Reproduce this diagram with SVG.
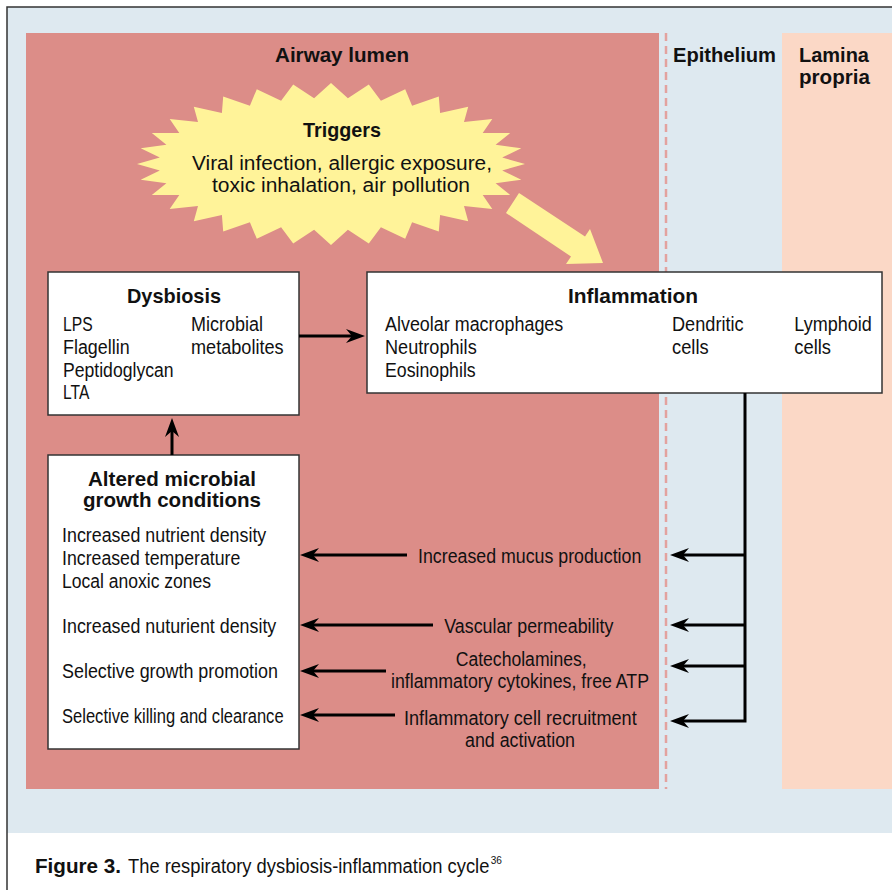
<svg xmlns="http://www.w3.org/2000/svg" width="892" height="890" viewBox="0 0 892 890">
<style>
text{font-family:"Liberation Sans",Arial,sans-serif;fill:#111}
.b{font-weight:bold;font-size:21px}
.r{font-size:20px}
.box{fill:#fff;stroke:#333;stroke-width:1.5}
.cn{fill:none;stroke:#000;stroke-width:3}
</style>
<defs>
<marker id="ah" viewBox="-20 -8 21 16" markerWidth="21" markerHeight="16" markerUnits="userSpaceOnUse" refX="-12" refY="0" orient="auto" overflow="visible">
<path d="M0,0 L-19,-7 L-13,0 L-19,7 Z" fill="#000"/>
</marker>
</defs>
<rect x="0" y="0" width="892" height="890" fill="#fff"/>
<rect x="7" y="7" width="885" height="826" fill="#dee9f0"/>
<path d="M7,890 V7 H892" fill="none" stroke="#333" stroke-width="1.5"/>
<rect x="26" y="33" width="633" height="756" fill="#dc8d88"/>
<rect x="782" y="33" width="110" height="756" fill="#fbd8c6"/>
<line x1="666" y1="33" x2="666" y2="789" stroke="#e3a29e" stroke-width="2.5" stroke-dasharray="8 5"/>
<g id="region-labels">
<text class="b" x="275" y="62" textLength="134" lengthAdjust="spacingAndGlyphs">Airway lumen</text>
<text class="b" x="673" y="62" textLength="103" lengthAdjust="spacingAndGlyphs">Epithelium</text>
<text class="b" x="799" y="62" textLength="70" lengthAdjust="spacingAndGlyphs">Lamina</text>
<text class="b" x="799" y="84" textLength="71" lengthAdjust="spacingAndGlyphs">propria</text>
</g>
<g id="triggers">
<polygon fill="#fff399" points="525,164 502.2,157.5 521.3,148.2 495.6,144.8 510.2,133 482.7,132.9 492.3,119 464,122.1 468.2,106.7 440.1,113 438.8,96.6 412.1,105.8 405.2,89.2 380.9,100.8 368.8,84.6 347.9,98.3 331,83 314.1,98.3 293.2,84.6 281.1,100.8 256.8,89.2 249.9,105.8 223.2,96.6 221.9,113 193.8,106.7 198,122.1 169.7,119 179.3,132.9 151.8,133 166.4,144.8 140.7,148.2 159.8,157.5 137,164 159.8,170.5 140.7,179.8 166.4,183.2 151.8,195 179.3,195.1 169.7,209 198,205.9 193.8,221.3 221.9,215 223.2,231.4 249.9,222.2 256.8,238.8 281.1,227.2 293.2,243.4 314.1,229.7 331,245 347.9,229.7 368.8,243.4 380.9,227.2 405.2,238.8 412.1,222.2 438.8,231.4 440.1,215 468.2,221.3 464,205.9 492.3,209 482.7,195.1 510.2,195 495.6,183.2 521.3,179.8 502.2,170.5"/>
<polygon fill="#fff399" points="519,193 585,236.5 590,229 603,263 566,264 571,256.5 506,213"/>
<text class="b" x="303" y="137" textLength="78" lengthAdjust="spacingAndGlyphs">Triggers</text>
<text class="r" x="192" y="170" textLength="300" lengthAdjust="spacingAndGlyphs">Viral infection, allergic exposure,</text>
<text class="r" x="212" y="192" textLength="258" lengthAdjust="spacingAndGlyphs">toxic inhalation, air pollution</text>
</g>
<g id="dysbiosis">
<rect class="box" x="48" y="272" width="251" height="143"/>
<text class="b" x="127" y="303" textLength="94" lengthAdjust="spacingAndGlyphs">Dysbiosis</text>
<text class="r" x="63" y="331" textLength="29.6" lengthAdjust="spacingAndGlyphs">LPS</text>
<text class="r" x="63" y="354" textLength="66.6" lengthAdjust="spacingAndGlyphs">Flagellin</text>
<text class="r" x="63" y="377" textLength="110.6" lengthAdjust="spacingAndGlyphs">Peptidoglycan</text>
<text class="r" x="63" y="398.5" textLength="26.3" lengthAdjust="spacingAndGlyphs">LTA</text>
<text class="r" x="191" y="331" textLength="72" lengthAdjust="spacingAndGlyphs">Microbial</text>
<text class="r" x="191" y="354" textLength="92.6" lengthAdjust="spacingAndGlyphs">metabolites</text>
</g>
<g id="inflammation">
<rect class="box" x="367" y="272" width="515" height="121"/>
<text class="b" x="568" y="303" textLength="130" lengthAdjust="spacingAndGlyphs">Inflammation</text>
<text class="r" x="385" y="331" textLength="178.3" lengthAdjust="spacingAndGlyphs">Alveolar macrophages</text>
<text class="r" x="385" y="354" textLength="91.7" lengthAdjust="spacingAndGlyphs">Neutrophils</text>
<text class="r" x="385" y="376.5" textLength="90.7" lengthAdjust="spacingAndGlyphs">Eosinophils</text>
<text class="r" x="672" y="331" textLength="71.6" lengthAdjust="spacingAndGlyphs">Dendritic</text>
<text class="r" x="672" y="354" textLength="36.6" lengthAdjust="spacingAndGlyphs">cells</text>
<text class="r" x="794.3" y="331" textLength="77.4" lengthAdjust="spacingAndGlyphs">Lymphoid</text>
<text class="r" x="794.3" y="354" textLength="36.7" lengthAdjust="spacingAndGlyphs">cells</text>
</g>
<g id="altered">
<rect class="box" x="48" y="455" width="251" height="294"/>
<text class="b" x="88" y="486" textLength="168" lengthAdjust="spacingAndGlyphs">Altered microbial</text>
<text class="b" x="83" y="507" textLength="178" lengthAdjust="spacingAndGlyphs">growth conditions</text>
<text class="r" x="62" y="542" textLength="204.3" lengthAdjust="spacingAndGlyphs">Increased nutrient density</text>
<text class="r" x="62" y="564.5" textLength="178.3" lengthAdjust="spacingAndGlyphs">Increased temperature</text>
<text class="r" x="62" y="587.5" textLength="149" lengthAdjust="spacingAndGlyphs">Local anoxic zones</text>
<text class="r" x="62" y="632.7" textLength="214.3" lengthAdjust="spacingAndGlyphs">Increased nuturient density</text>
<text class="r" x="62" y="677.7" textLength="216" lengthAdjust="spacingAndGlyphs">Selective growth promotion</text>
<text class="r" x="62" y="722.7" textLength="221.6" lengthAdjust="spacingAndGlyphs">Selective killing and clearance</text>
</g>
<g id="connectors">
<path class="cn" d="M299,336 H353" marker-end="url(#ah)"/>
<path class="cn" d="M172,455 V430" marker-end="url(#ah)"/>
<path class="cn" d="M407,555 H312" marker-end="url(#ah)"/>
<path class="cn" d="M433,625 H312" marker-end="url(#ah)"/>
<path class="cn" d="M386,671 H312" marker-end="url(#ah)"/>
<path class="cn" d="M395,715 H312" marker-end="url(#ah)"/>
<path class="cn" d="M745,393 V721 H682" marker-end="url(#ah)"/>
<path class="cn" d="M745,555 H682" marker-end="url(#ah)"/>
<path class="cn" d="M745,625 H682" marker-end="url(#ah)"/>
<path class="cn" d="M745,666 H682" marker-end="url(#ah)"/>
</g>
<g id="connector-labels">
<text class="r" x="418" y="563" textLength="223.3" lengthAdjust="spacingAndGlyphs">Increased mucus production</text>
<text class="r" x="444.3" y="633.3" textLength="169" lengthAdjust="spacingAndGlyphs">Vascular permeability</text>
<text class="r" x="455.7" y="665.7" textLength="131" lengthAdjust="spacingAndGlyphs">Catecholamines,</text>
<text class="r" x="391" y="687.7" textLength="258" lengthAdjust="spacingAndGlyphs">inflammatory cytokines, free ATP</text>
<text class="r" x="404" y="725" textLength="232.7" lengthAdjust="spacingAndGlyphs">Inflammatory cell recruitment</text>
<text class="r" x="465" y="746.7" textLength="110" lengthAdjust="spacingAndGlyphs">and activation</text>
</g>
<g id="caption">
<text class="b" x="35" y="873" textLength="86" lengthAdjust="spacingAndGlyphs">Figure 3.</text>
<text class="r" x="128" y="873" textLength="374" lengthAdjust="spacingAndGlyphs">The respiratory dysbiosis-inflammation cycle<tspan font-size="11" dx="1.5" dy="-9">36</tspan></text>
</g>
</svg>
